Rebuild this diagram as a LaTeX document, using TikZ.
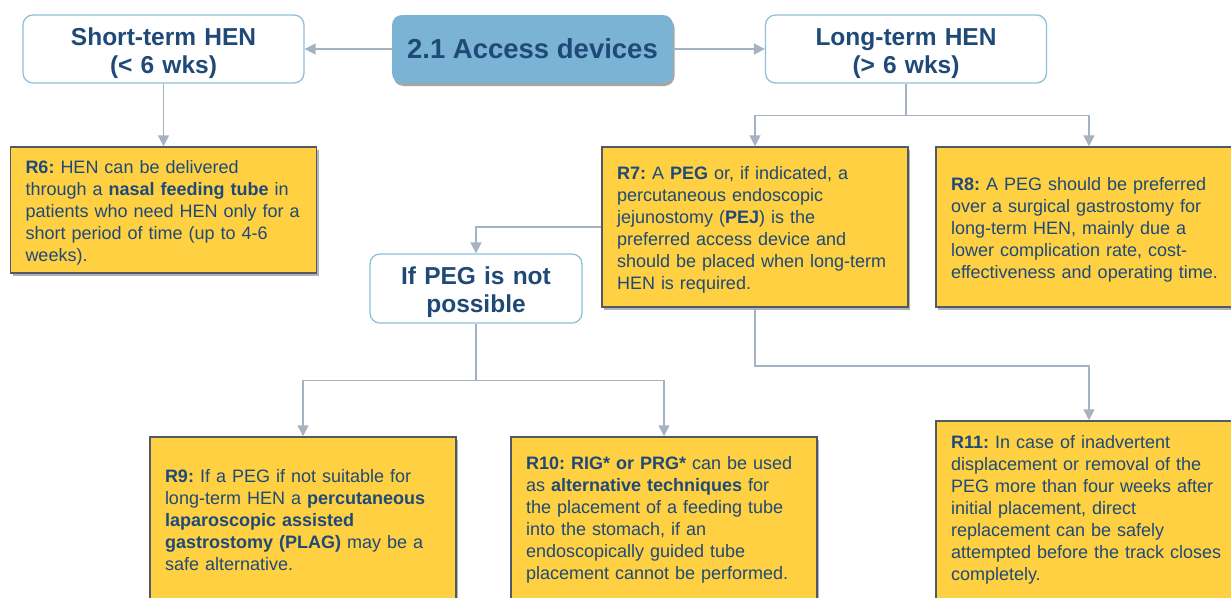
\documentclass[tikz,border=0pt]{standalone}
\usepackage{fontspec}
\setmainfont{Liberation Sans}
\usetikzlibrary{arrows.meta,shadows}
\definecolor{txtblue}{HTML}{1F4A78}
\definecolor{hdrborder}{HTML}{8EC0DD}
\definecolor{titlefill}{HTML}{7BB3D4}
\definecolor{yel}{HTML}{FED042}
\definecolor{yelborder}{HTML}{4F5A66}
\definecolor{conncol}{HTML}{A4B2C2}
\frenchspacing
\tikzset{
  hdr/.style={draw=hdrborder, line width=1.3pt, fill=white, rounded corners=10pt,
    minimum width=281pt, minimum height=68pt, inner sep=0pt, align=center,
    text width=270pt,
    font=\fontsize{24.5}{28}\selectfont\bfseries, text=txtblue,
    execute at begin node={\rule{0pt}{26pt}}},
  titlebox/.style={fill=titlefill, rounded corners=10pt, minimum width=281pt,
    minimum height=68pt, inner sep=0pt, font=\fontsize{27.5}{32}\selectfont\bfseries,
    text=txtblue, drop shadow={shadow xshift=1.5pt, shadow yshift=-3pt, opacity=0.35, fill=black}},
  rec/.style={draw=yelborder, line width=1.5pt, fill=yel, text=txtblue,
    font=\fontsize{18}{22}\selectfont, align=left, inner xsep=15pt, inner ysep=0pt,
    text width=276pt, drop shadow={shadow xshift=2pt, shadow yshift=-3pt, opacity=0.3, fill=black}},
  rectop/.style={rec, execute at begin node={\rule{0pt}{19pt}}},
  conn/.style={draw=conncol, line width=1.6pt},
  arr/.style={conn, -{Triangle[length=11pt,width=11pt]}},
}
\begin{document}
\begin{tikzpicture}[x=1pt, y=-1pt]
\useasboundingbox (0,0) rectangle (1231,597);
\node[hdr] (short) at (163.5,49) {Short-term HEN\\(< 6 wks)};
\node[titlebox] (title) at (532.5,49) {2.1 Access devices};
\node[hdr] (long) at (906,49) {Long-term HEN\\(> 6 wks)};
\node[rectop, minimum height=126pt] (r6) at (163.5,210) {\textbf{R6:} HEN can be delivered\\
through a \textbf{nasal feeding tube} in\\
patients who need HEN only for a\\
short period of time (up to 4-6\\
weeks).};
\node[rectop, minimum height=160pt] (r7) at (755,227) {\textbf{R7:} A \textbf{PEG} or, if indicated, a\\
percutaneous endoscopic\\
jejunostomy (\textbf{PEJ}) is the\\
preferred access device and\\
should be placed when long-term\\
HEN is required.};
\node[rectop, minimum height=160pt] (r8) at (1089,227) {\textbf{R8:} A PEG should be preferred\\
over a surgical gastrostomy for\\
long-term HEN, mainly due a\\
lower complication rate, cost-\\
effectiveness and operating time.};
\node[hdr, minimum width=212pt, minimum height=69pt, text width=200pt] (ifpeg) at (476,288.5) {If PEG is not\\possible};
\node[rec, minimum height=166pt] (r9) at (303,520) {\textbf{R9:} If a PEG if not suitable for\\
long-term HEN a \textbf{percutaneous}\\
\textbf{laparoscopic assisted}\\
\textbf{gastrostomy (PLAG)} may be a\\
safe alternative.};
\node[rec, minimum height=166pt] (r10) at (664,520) {\textbf{R10: RIG* or PRG*} can be used\\
as \textbf{alternative techniques} for\\
the placement of a feeding tube\\
into the stomach, if an\\
endoscopically guided tube\\
placement cannot be performed.};
\node[rec, minimum height=178pt] (r11) at (1089,510) {\textbf{R11:} In case of inadvertent\\
displacement or removal of the\\
PEG more than four weeks after\\
initial placement, direct\\
replacement can be safely\\
attempted before the track closes\\
completely.};
\draw[arr] (title.west) -- (short.east);
\draw[arr] (title.east) -- (long.west);
\draw[arr] (short.south) -- (r6.north);
\draw[conn] (long.south) -- ++(0,32) coordinate (lj);
\draw[arr] (lj) -| (r7.north);
\draw[arr] (lj) -| (r8.north);
\draw[arr] (r7.west) -| (ifpeg.north);
\draw[conn] (ifpeg.south) -- ++(0,57) coordinate (pj);
\draw[arr] (pj) -| (r9.north);
\draw[arr] (pj) -| (r10.north);
\draw[arr] (r7.south) -- ++(0,58) -| (r11.north);
\end{tikzpicture}
\end{document}
